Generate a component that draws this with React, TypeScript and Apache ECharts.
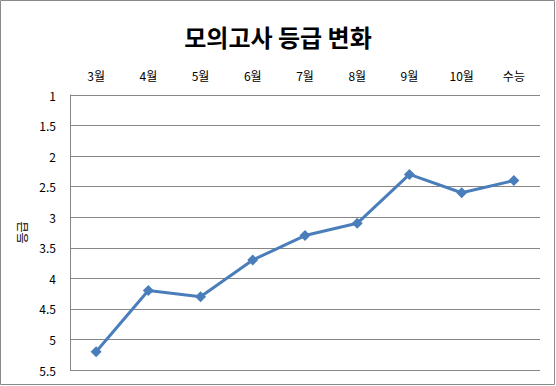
import React, { useEffect, useRef } from "react";
import * as echarts from "echarts";

const categories = ["3월", "4월", "5월", "6월", "7월", "8월", "9월", "10월", "수능"];
const grades = [5.2, 4.2, 4.3, 3.7, 3.3, 3.1, 2.3, 2.6, 2.4];
const yMin = 1;
const yMax = 5.5;
const yInterval = 0.5;

const FONT = '"Noto Sans CJK KR", "Noto Sans", sans-serif';

export default function App() {
  const ref = useRef<HTMLDivElement>(null);
  useEffect(() => {
    if (!ref.current) return;
    const chart = echarts.init(ref.current, undefined, { renderer: "svg" });
    chart.setOption({
      animation: false,
      backgroundColor: "#ffffff",
      textStyle: { fontFamily: FONT },
      title: {
        text: "모의고사 등급 변화",
        left: "center",
        top: 19,
        textStyle: { fontFamily: FONT, fontSize: 24, fontWeight: "bold", color: "#000" },
      },
      graphic: [
        {
          type: "rect",
          shape: { x: 0.5, y: 0.5, width: 554, height: 384 },
          style: { fill: "none", stroke: "#8a8a8a", lineWidth: 1 },
          silent: true,
        },
      ],
      grid: { left: 70, right: 16, top: 95, bottom: 16 },
      xAxis: {
        type: "category",
        position: "top",
        data: categories,
        boundaryGap: true,
        axisLine: { show: false },
        axisTick: { show: false },
        axisLabel: { color: "#000", fontSize: 12, margin: 14, fontFamily: FONT },
        splitLine: { show: false },
      },
      yAxis: {
        type: "value",
        inverse: true,
        min: yMin,
        max: yMax,
        interval: yInterval,
        name: "등급",
        nameLocation: "middle",
        nameRotate: 90,
        nameGap: 43,
        nameTextStyle: { color: "#000", fontSize: 12, fontFamily: FONT },
        axisLine: { show: true, lineStyle: { color: "#868686", width: 1 } },
        axisTick: { show: false },
        axisLabel: { color: "#000", fontSize: 12, margin: 14, fontFamily: FONT },
        splitLine: { show: true, lineStyle: { color: "#868686", width: 1 } },
      },
      series: [
        {
          type: "line",
          data: grades,
          symbol: "diamond",
          symbolSize: 11,
          lineStyle: { color: "#4a7ebb", width: 3 },
          itemStyle: { color: "#4a7ebb" },
        },
      ],
    });
    return () => chart.dispose();
  }, []);
  return (
    <div
      ref={ref}
      style={{ position: "fixed", left: 0, top: 0, width: 556, height: 386 }}
    />
  );
}
